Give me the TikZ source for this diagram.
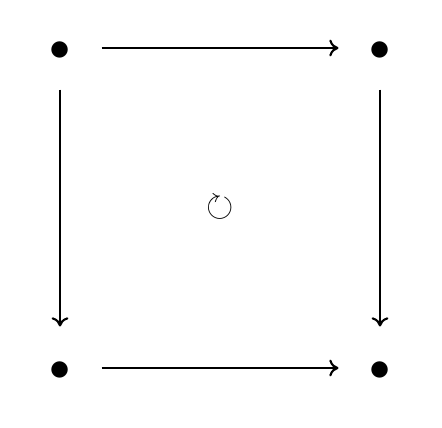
\documentclass[tikz,border=0pt]{standalone}
\usepackage{amssymb}
\usetikzlibrary{arrows.meta}

\newcommand{\pnt}{\raisebox{-3.6pt}[0pt][0pt]{\large$\bullet$}}

\begin{document}
\begin{tikzpicture}[line width=0.6pt,
    >={Computer Modern Rightarrow[length=2.6pt, width=4.8pt]},
    pt/.style={circle, inner sep=0pt, minimum size=0.81cm}]

    \useasboundingbox (0, 0) rectangle (4.42, 4.27);

    \node [pt] (tl) at (0.6, 3.79) {\pnt};
    \node [pt] (tr) at (3.8, 3.79) {\pnt};
    \node [pt] (bl) at (0.6, 0.59) {\pnt};
    \node [pt] (br) at (3.8, 0.59) {\pnt};

    \draw [->] (tl) -- (tr);
    \draw [->] (tl) -- (bl);
    \draw [->] (tr) -- (br);
    \draw [->] (bl) -- (br);

    \node (rot) at (2.2, 2.19) {$\circlearrowright$};

  \end{tikzpicture}
\end{document}
